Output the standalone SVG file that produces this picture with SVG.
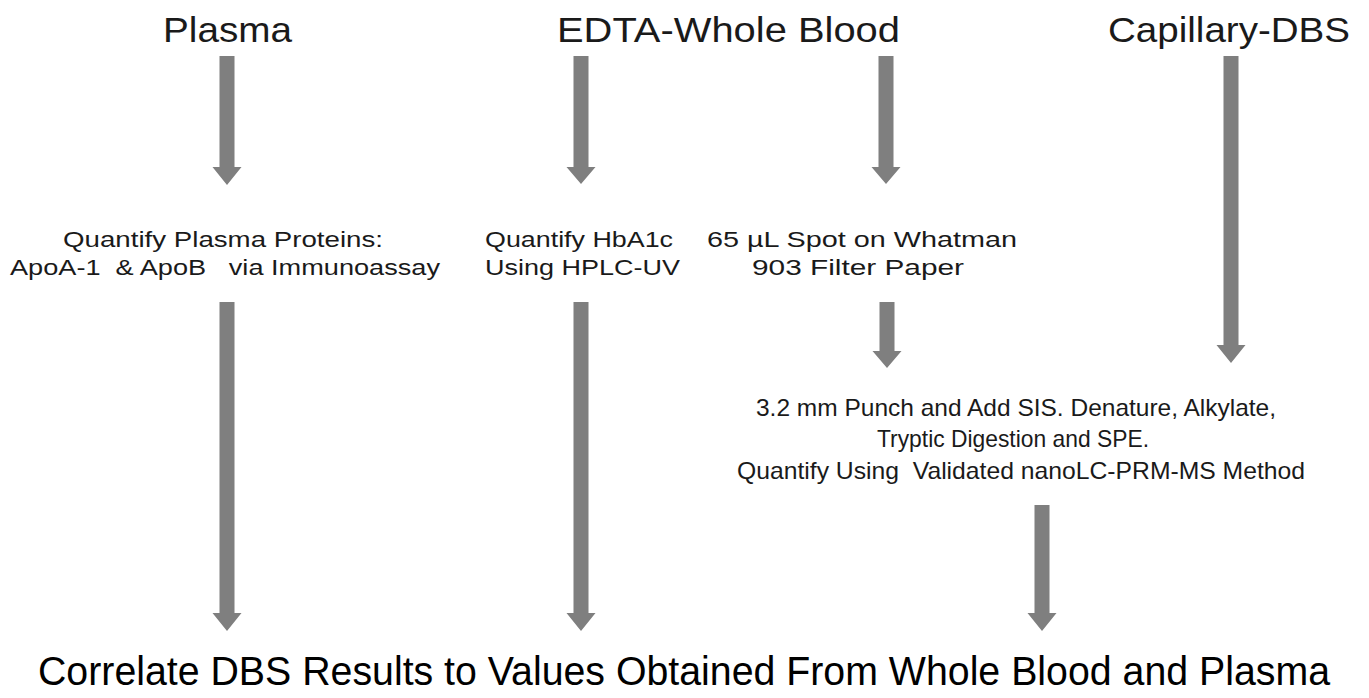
<svg xmlns="http://www.w3.org/2000/svg" width="1369" height="698" viewBox="0 0 1369 698">
<style>
.arr{fill:#7f7f7f}
text{font-family:"Liberation Sans",Arial,sans-serif;fill:#1a1a1a}
.h{font-size:35px}
.m{font-size:22px}
.d{font-size:24px}
.f{font-size:40px;fill:#000}
</style>
<rect width="1369" height="698" fill="#fff"/>
<g id="connectors">
<polygon class="arr" points="219.5,56 234.5,56 234.5,167 241.5,167 227,185 212.5,167 219.5,167"/>
<polygon class="arr" points="573.5,56 588.5,56 588.5,167 595.5,167 581,184 566.5,167 573.5,167"/>
<polygon class="arr" points="878.5,56 893.5,56 893.5,167 900.5,167 886,184 871.5,167 878.5,167"/>
<polygon class="arr" points="1223.5,56 1238.5,56 1238.5,345 1245.5,345 1231,363 1216.5,345 1223.5,345"/>
<polygon class="arr" points="219.5,302 234.5,302 234.5,613 241.5,613 227,631 212.5,613 219.5,613"/>
<polygon class="arr" points="573.5,302 588.5,302 588.5,613 595.5,613 581,631 566.5,613 573.5,613"/>
<polygon class="arr" points="879.5,302 894.5,302 894.5,351 901.5,351 887,368 872.5,351 879.5,351"/>
<polygon class="arr" points="1034.5,505 1049.5,505 1049.5,613 1056.5,613 1042,631 1027.5,613 1034.5,613"/>
</g>
<g id="plasma"><text class="h" x="163" y="42" textLength="129" lengthAdjust="spacingAndGlyphs">Plasma</text></g>
<g id="edta"><text class="h" x="557" y="42" textLength="343" lengthAdjust="spacingAndGlyphs">EDTA-Whole Blood</text></g>
<g id="capillary"><text class="h" x="1108" y="42" textLength="242" lengthAdjust="spacingAndGlyphs">Capillary-DBS</text></g>
<g id="immuno">
<text class="m" x="63" y="247" textLength="320" lengthAdjust="spacingAndGlyphs">Quantify Plasma Proteins:</text>
<text class="m" x="10" y="275" textLength="430" lengthAdjust="spacingAndGlyphs" xml:space="preserve">ApoA-1  &amp; ApoB   via Immunoassay</text>
</g>
<g id="hplc">
<text class="m" x="485" y="247" textLength="188" lengthAdjust="spacingAndGlyphs">Quantify HbA1c</text>
<text class="m" x="485" y="275" textLength="195" lengthAdjust="spacingAndGlyphs">Using HPLC-UV</text>
</g>
<g id="spot">
<text class="m" x="707" y="247" textLength="310" lengthAdjust="spacingAndGlyphs">65 µL Spot on Whatman</text>
<text class="m" x="752" y="275" textLength="212" lengthAdjust="spacingAndGlyphs">903 Filter Paper</text>
</g>
<g id="punch">
<text class="d" x="756" y="416" textLength="520" lengthAdjust="spacingAndGlyphs">3.2 mm Punch and Add SIS. Denature, Alkylate,</text>
<text class="d" x="877" y="447" textLength="272" lengthAdjust="spacingAndGlyphs">Tryptic Digestion and SPE.</text>
<text class="d" x="737" y="479" textLength="568" lengthAdjust="spacingAndGlyphs" xml:space="preserve">Quantify Using  Validated nanoLC-PRM-MS Method</text>
</g>
<g id="correlate"><text class="f" x="38" y="685" textLength="1292" lengthAdjust="spacingAndGlyphs">Correlate DBS Results to Values Obtained From Whole Blood and Plasma</text></g>
</svg>
